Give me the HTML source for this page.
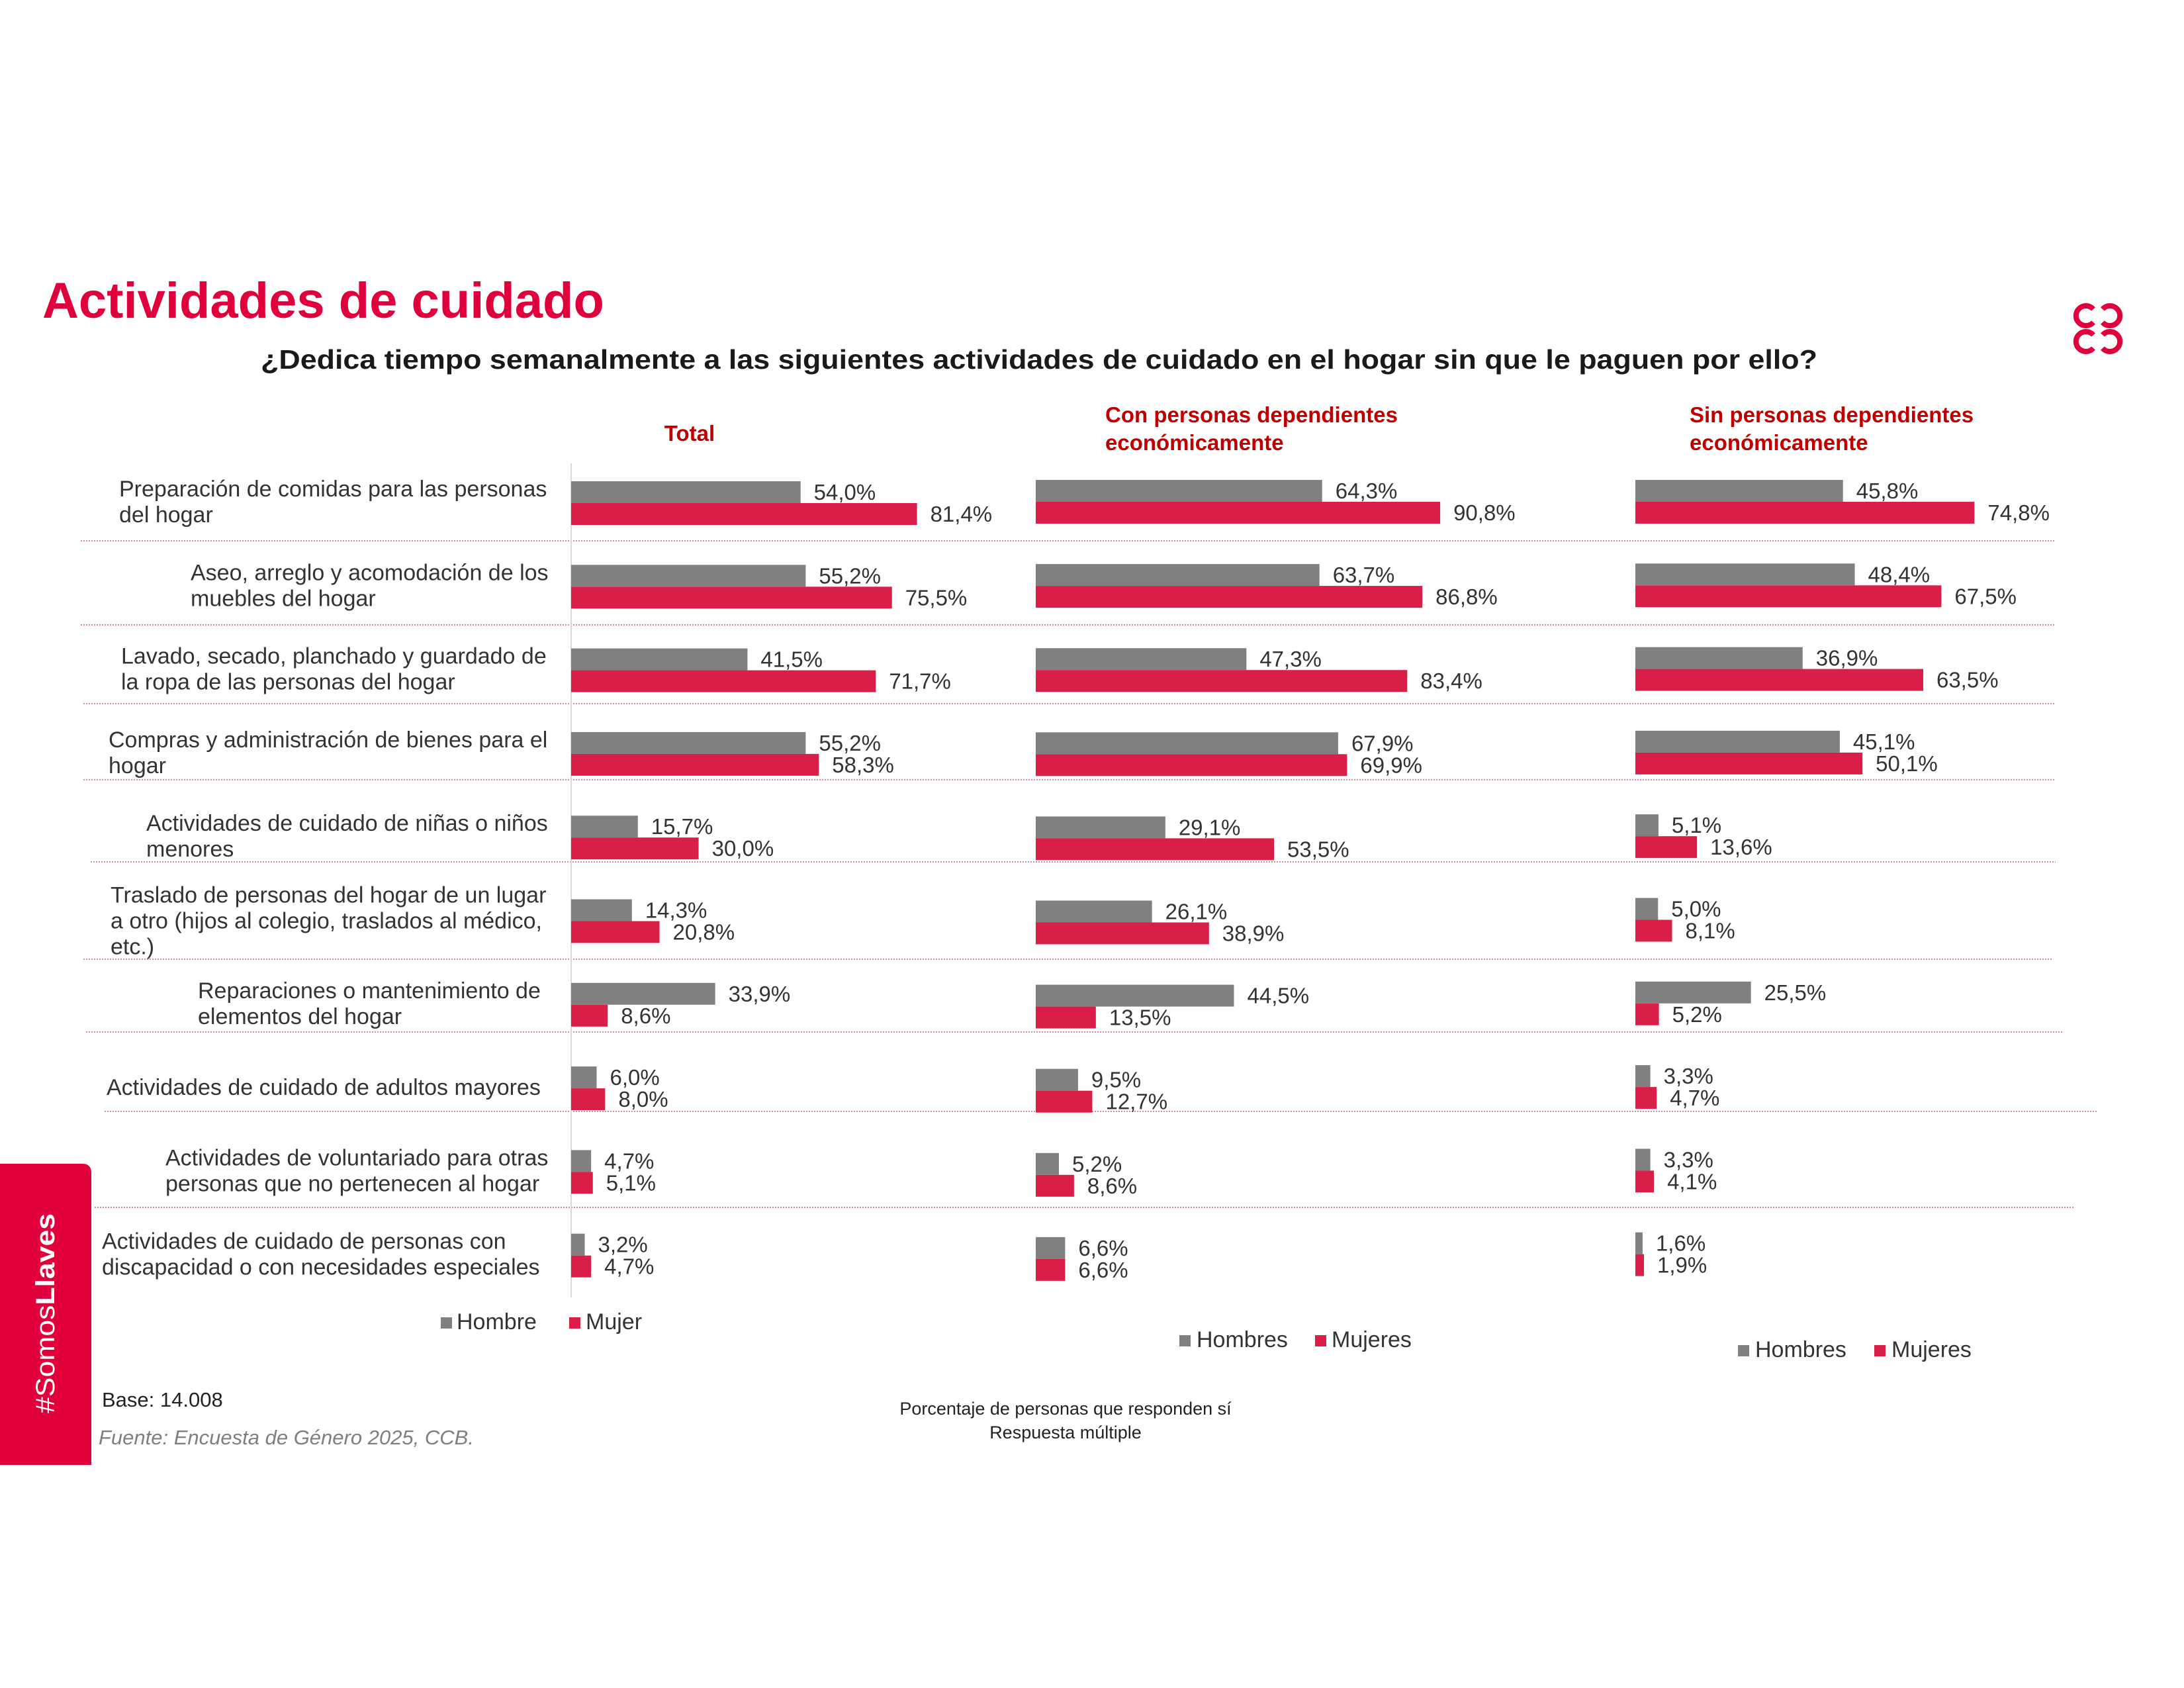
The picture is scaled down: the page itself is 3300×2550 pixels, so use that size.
<!DOCTYPE html>
<html><head><meta charset="utf-8">
<style>
html,body{margin:0;padding:0;background:#fff;}
svg{display:block;font-family:"Liberation Sans",Arial,sans-serif;}
</style></head>
<body>
<svg id="chart" width="3300" height="2550" viewBox="0 0 3300 2550" xmlns="http://www.w3.org/2000/svg">
<rect x="0" y="0" width="3300" height="2550" fill="#fff"/>
<text x="64" y="480" font-size="76" font-weight="bold" fill="#E0003C">Actividades de cuidado</text>
<text x="394" y="557" font-size="41" font-weight="bold" fill="#1a1a1a" textLength="2352" lengthAdjust="spacingAndGlyphs">¿Dedica tiempo semanalmente a las siguientes actividades de cuidado en el hogar sin que le paguen por ello?</text>
<g fill="none" stroke="#E0003C" stroke-width="8">
<path d="M3163,467 A15,15 0 1 0 3163,487"/><path d="M3177,467 A15,15 0 1 1 3177,487"/>
<path d="M3163,506 A15,15 0 1 0 3163,526"/><path d="M3177,506 A15,15 0 1 1 3177,526"/>
</g>
<text x="1042" y="666" font-size="33" font-weight="bold" fill="#C00000" text-anchor="middle">Total</text>
<text x="1670" y="638" font-size="33" font-weight="bold" fill="#C00000"><tspan x="1670">Con personas dependientes</tspan><tspan x="1670" dy="42">económicamente</tspan></text>
<text x="2553" y="638" font-size="33" font-weight="bold" fill="#C00000"><tspan x="2553">Sin personas dependientes</tspan><tspan x="2553" dy="42">económicamente</tspan></text>
<g id="seps"></g>
<line x1="863" y1="700" x2="863" y2="1960" stroke="#d9d9d9" stroke-width="2"/>
<g id="labels"></g>
<g id="bars"></g>
<g font-size="34" fill="#333">
<rect x="666" y="1990" width="17" height="17" fill="#808080"/><text x="690" y="2008">Hombre</text>
<rect x="860" y="1990" width="17" height="17" fill="#D91E48"/><text x="885" y="2008">Mujer</text>
</g>
<g font-size="34" fill="#333">
<rect x="1782" y="2017" width="17" height="17" fill="#808080"/><text x="1808" y="2035">Hombres</text>
<rect x="1987" y="2017" width="17" height="17" fill="#D91E48"/><text x="2012" y="2035">Mujeres</text>
</g>
<g font-size="34" fill="#333">
<rect x="2626" y="2032" width="17" height="17" fill="#808080"/><text x="2652" y="2050">Hombres</text>
<rect x="2832" y="2032" width="17" height="17" fill="#D91E48"/><text x="2858" y="2050">Mujeres</text>
</g>
<text x="154" y="2125" font-size="31" fill="#222">Base: 14.008</text>
<text x="149" y="2182" font-size="31" font-style="italic" fill="#7f7f7f">Fuente: Encuesta de Género 2025, CCB.</text>
<text x="1610" y="2137" font-size="27" fill="#222" text-anchor="middle">Porcentaje de personas que responden sí</text>
<text x="1610" y="2173" font-size="27" fill="#222" text-anchor="middle">Respuesta múltiple</text>
<path d="M0,1758 H124 Q138,1758 138,1772 V2213 H0 Z" fill="#E0003C"/>
<text transform="translate(82,2135) rotate(-90)" font-size="40" fill="#fff" textLength="302" lengthAdjust="spacingAndGlyphs">#Somos<tspan font-weight="bold">Llaves</tspan></text>
</svg>
<script>
const categories = [
  ["Preparación de comidas para las personas","del hogar"],
  ["Aseo, arreglo y acomodación de los","muebles del hogar"],
  ["Lavado, secado, planchado y guardado de","la ropa de las personas del hogar"],
  ["Compras y administración de bienes para el","hogar"],
  ["Actividades de cuidado de niñas o niños","menores"],
  ["Traslado de personas del hogar de un lugar","a otro (hijos al colegio, traslados al médico,","etc.)"],
  ["Reparaciones o mantenimiento de","elementos del hogar"],
  ["Actividades de cuidado de adultos mayores"],
  ["Actividades de voluntariado para otras","personas que no pertenecen al hogar"],
  ["Actividades de cuidado de personas con","discapacidad o con necesidades especiales"]
];
const totalHombre = [54.0,55.2,41.5,55.2,15.7,14.3,33.9,6.0,4.7,3.2];
const totalMujer  = [81.4,75.5,71.7,58.3,30.0,20.8,8.6,8.0,5.1,4.7];
const conHombre   = [64.3,63.7,47.3,67.9,29.1,26.1,44.5,9.5,5.2,6.6];
const conMujer    = [90.8,86.8,83.4,69.9,53.5,38.9,13.5,12.7,8.6,6.6];
const sinHombre   = [45.8,48.4,36.9,45.1,5.1,5.0,25.5,3.3,3.3,1.6];
const sinMujer    = [74.8,67.5,63.5,50.1,13.6,8.1,5.2,4.7,4.1,1.9];

const NS = "http://www.w3.org/2000/svg";
function mk(tag, attrs, parent){ const e=document.createElementNS(NS,tag); for(const k in attrs) e.setAttribute(k,attrs[k]); parent.appendChild(e); return e; }
const fmt = v => v.toFixed(1).replace('.',',') + '%';

const panels = [
  {name:'total', x0:863,  k:6.42, y0:760, step:126.3, h:totalHombre, m:totalMujer},
  {name:'con',   x0:1565, k:6.73, y0:758, step:127.1, h:conHombre,   m:conMujer},
  {name:'sin',   x0:2471, k:6.85, y0:758, step:126.3, h:sinHombre,   m:sinMujer}
];
const barH = 33;
const barsG = document.getElementById('bars');
panels.forEach(p => {
  const xs = v => p.x0 + v * p.k;
  const yc = i => p.y0 + i * p.step;
  p.h.forEach((v,i) => {
    const r = mk('rect',{x:p.x0, y:yc(i)-barH, width:xs(v)-p.x0, height:barH, fill:'#808080'}, barsG);
    
    
    const t = mk('text',{x:xs(v)+20, y:yc(i)-5, 'font-size':33, fill:'#333'}, barsG);
    t.textContent = fmt(v);
    
    
  });
  p.m.forEach((v,i) => {
    const r = mk('rect',{x:p.x0, y:yc(i), width:xs(v)-p.x0, height:barH, fill:'#D91E48'}, barsG);
    
    
    const t = mk('text',{x:xs(v)+20, y:yc(i)+28, 'font-size':33, fill:'#333'}, barsG);
    t.textContent = fmt(v);
    
    
  });
});

const labelX = [180,288,183,164,221,167,299,161,250,154];
const labG = document.getElementById('labels');
categories.forEach((lines,i) => {
  const c = 760 + i*126.3;
  let first;
  if (lines.length===1) first = c+10;
  else if (lines.length===2) first = c-10;
  else first = c-28;
  const t = mk('text',{x:labelX[i], y:first, 'font-size':34, fill:'#333'}, labG);
  
  
  lines.forEach((ln,j) => {
    const ts = mk('tspan',{x:labelX[i], dy: j===0?0:39}, t);
    ts.textContent = ln;
  });
});

const sepY = [817,944,1063,1178,1302,1449,1559,1679,1824];
const sepX1 = [122,122,126,126,137,126,130,158,143];
const sepX2 = [3106,3106,3106,3106,3106,3100,3118,3170,3134];
const sepG = document.getElementById('seps');
sepY.forEach((y,i) => {
  const l = mk('line',{x1:sepX1[i], y1:y, x2:sepX2[i], y2:y, stroke:'#c98f9c', 'stroke-width':2, 'stroke-dasharray':'2,2'}, sepG);
  
  
});
</script>
</body></html>
